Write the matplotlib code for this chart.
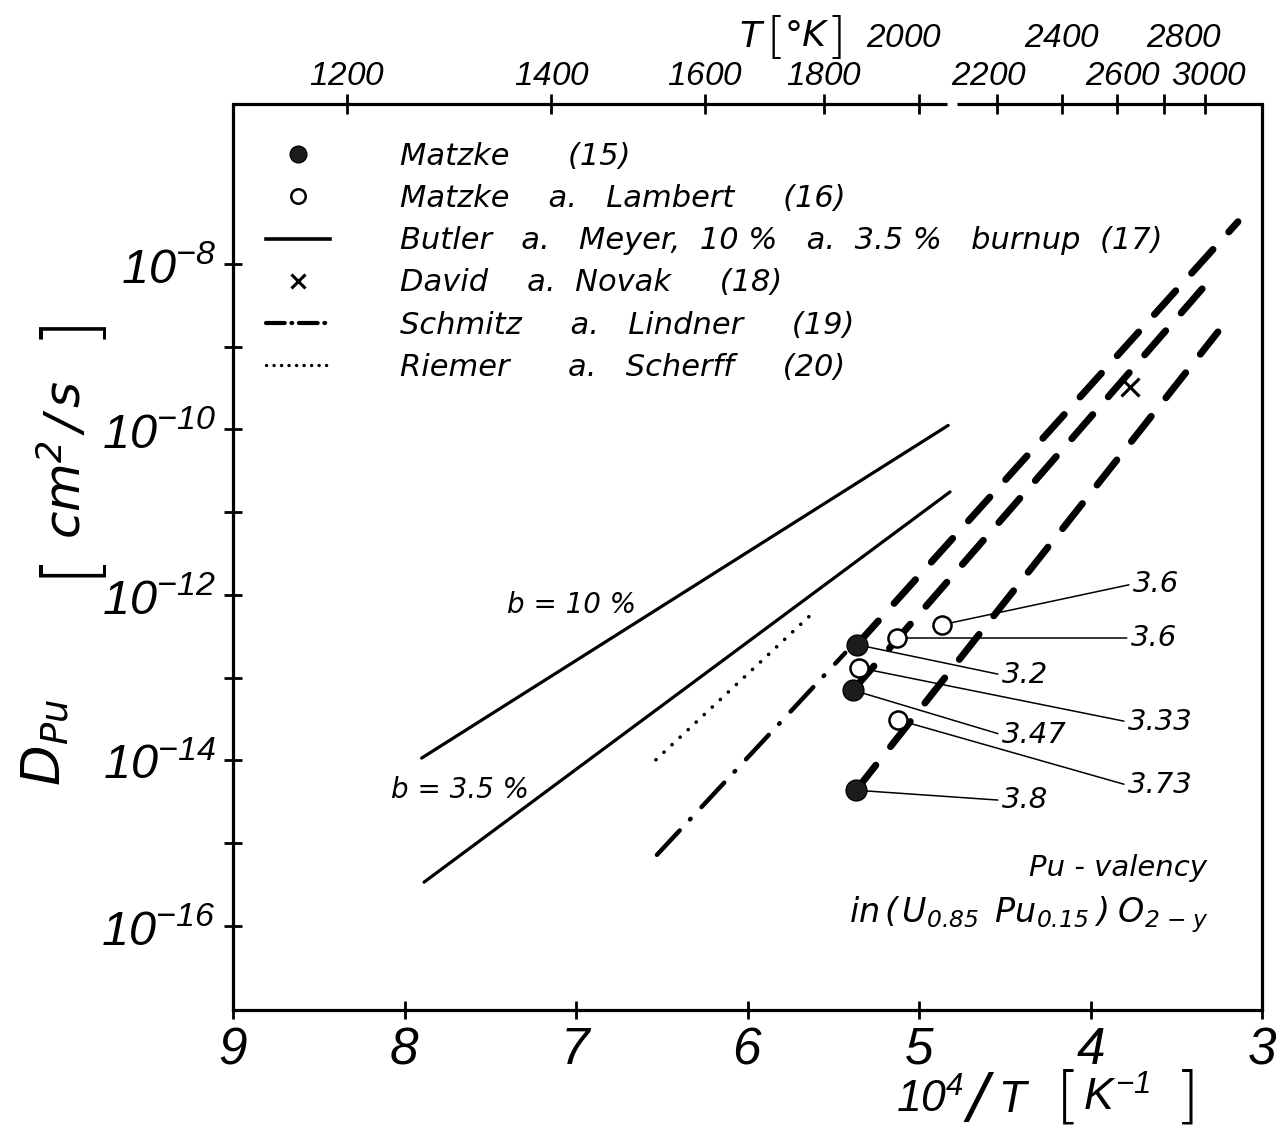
import numpy as np
import matplotlib
matplotlib.use("Agg")
import matplotlib.pyplot as plt
from matplotlib.lines import Line2D
from matplotlib.ticker import NullFormatter, NullLocator
from matplotlib.transforms import blended_transform_factory, ScaledTranslation

# --- data (x = 10^4/T in 1/K, y = D_Pu in cm^2/s) ---
# Matzke (15), filled circles, and their Pu valency
matzke_x = [5.362, 5.385, 5.367]
matzke_d = [2.51e-13, 7.08e-14, 4.37e-15]
matzke_val = ["3.2", "3.47", "3.8"]

# Matzke a. Lambert (16), open circles
lambert_x = [4.866, 5.128, 5.350, 5.122]
lambert_d = [4.37e-13, 3.02e-13, 1.32e-13, 3.09e-14]
lambert_val = ["3.6", "3.6", "3.33", "3.73"]

# Butler a. Meyer (17), 10 % and 3.5 % burnup
butler10_x = [7.90, 4.83]
butler10_d = [1.07e-14, 1.12e-10]
butler35_x = [7.886, 4.819]
butler35_d = [3.39e-16, 1.76e-11]

# David a. Novak (18)
novak_x = [3.770]
novak_d = [3.24e-10]

# Schmitz a. Lindner (19): dash-dot part, then the three heavy dashed lines
schmitz_x = [6.528, 5.43]
schmitz_d = [7.24e-16, 2.0e-13]
heavy1_x = [5.362, 3.140]
heavy1_d = [2.51e-13, 3.24e-8]
heavy2_x = [5.385, 3.315]
heavy2_d = [7.08e-14, 6.03e-9]
heavy3_x = [5.367, 3.257]
heavy3_d = [4.37e-15, 1.51e-9]

# Riemer a. Scherff (20)
riemer_x = [6.534, 5.636]
riemer_d = [1.02e-14, 5.62e-13]

# top axis temperatures
T_ticks = [1200, 1400, 1600, 1800, 2000, 2200, 2400, 2600, 2800, 3000]
T_upper = [2000, 2400, 2800]

# where the valency labels sit (x, D)
matzke_lab_x = [4.516, 4.516, 4.516]
matzke_lab_d = [1.08e-13, 2.04e-14, 3.3e-15]
lambert_lab_x = [3.752, 3.764, 3.781, 3.781]
lambert_lab_d = [1.36e-12, 3.02e-13, 2.92e-14, 5.0e-15]

# --- fonts ---
num_font = "Liberation Sans"
plt.rcParams["font.family"] = ["DejaVu Sans"]
plt.rcParams["mathtext.fontset"] = "custom"
plt.rcParams["mathtext.rm"] = num_font + ":italic"
plt.rcParams["mathtext.it"] = num_font + ":italic"
plt.rcParams["mathtext.sf"] = "DejaVu Sans:italic"

W, H = 1276, 1129
fig = plt.figure(figsize=(W / 100, H / 100), dpi=100)
ax = fig.add_axes([233 / W, 1 - 1010 / H, 1029 / W, 906 / H])
ax.set_yscale("log")
ax.set_xlim(9, 3)
ax.set_ylim(10 ** -17.015, 10 ** -6.067)


def ftext(px, py, s, size, rot=0, **kw):
    # text placed in picture pixels (from top-left)
    kw.setdefault("style", "italic")
    return fig.text(px / W, 1 - py / H, s, fontsize=size, rotation=rot,
                    ha="center", va="center", **kw)


def bracket(px, py, s, size, rot=0):
    # thin, tall square bracket
    return ftext(px, py, s, size, rot=rot, style="normal", fontweight=200)


# lines
ax.plot(butler10_x, butler10_d, color="k", lw=2.3, solid_capstyle="round", zorder=2)
ax.plot(butler35_x, butler35_d, color="k", lw=2.3, solid_capstyle="round", zorder=2)
ax.plot(riemer_x, riemer_d, color="k", lw=2.6, dashes=(0.05, 3.0), dash_capstyle="round", zorder=2)
ax.plot(schmitz_x, schmitz_d, color="k", lw=3.2, dashes=(7.5, 3.4, 0.2, 3.6),
        dash_capstyle="round", zorder=2)
for hx, hd in [(heavy1_x, heavy1_d), (heavy2_x, heavy2_d), (heavy3_x, heavy3_d)]:
    ax.plot(hx, hd, color="k", lw=5.0, dashes=(4.6, 3.4), dash_capstyle="round", zorder=2)

# valency leader lines + labels
for px, pd_, lx, ld, v in zip(matzke_x + lambert_x, matzke_d + lambert_d,
                              matzke_lab_x + lambert_lab_x, matzke_lab_d + lambert_lab_d,
                              matzke_val + lambert_val):
    ax.annotate(v, xy=(px, pd_), xytext=(lx, ld), textcoords="data",
                ha="left", va="center", fontsize=21, style="italic",
                arrowprops=dict(arrowstyle="-", lw=1.1, color="k",
                                shrinkA=1, shrinkB=0, relpos=(0, 0.5)), zorder=3)

# points
p_matzke, = ax.plot(matzke_x, matzke_d, "o", ms=15, mfc="#1c1c1c", mec="k", mew=1.0, zorder=5)
p_lambert, = ax.plot(lambert_x, lambert_d, "o", ms=13, mfc="white", mec="k", mew=1.8, zorder=5)
p_novak, = ax.plot(novak_x, novak_d, "x", ms=13, mec="k", mew=2.2, zorder=5)

# legend (proxies for the lines)
butler_h = Line2D([], [], color="k", lw=2.6)
schmitz_h = Line2D([], [], color="k", lw=3.0, dashes=(4.5, 1.6, 0.2, 1.6), dash_capstyle="round")
riemer_h = Line2D([], [], color="k", lw=2.4, dashes=(0.05, 2.2), dash_capstyle="round")
handles = [p_matzke, p_lambert, butler_h, p_novak, schmitz_h, riemer_h]
labels = ["Matzke      (15)",
          "Matzke    a.   Lambert     (16)",
          "Butler   a.   Meyer,  10 %   a.  3.5 %   burnup  (17)",
          "David    a.  Novak     (18)",
          "Schmitz     a.   Lindner     (19)",
          "Riemer      a.   Scherff     (20)"]
leg = ax.legend(handles, labels, loc="upper left", bbox_to_anchor=(0.032, 0.958),
                frameon=False, borderpad=0, borderaxespad=0, handlelength=2.1,
                handletextpad=2.3, labelspacing=0.43, numpoints=1, markerscale=0.8,
                prop=dict(family="DejaVu Sans", style="italic", size=22))

# in-plot text
ax.text(7.023, 10 ** -12.12, "b = 10 %", fontsize=20, style="italic", ha="center", va="center")
ax.text(7.676, 10 ** -14.36, "b = 3.5 %", fontsize=20, style="italic", ha="center", va="center")
ax.text(0.947, 0.157, "Pu - valency", transform=ax.transAxes, fontsize=21,
        style="italic", ha="right", va="center")
ax.text(0.948, 0.105, r"$\mathsf{in\,(\,U_{0.85}\;\;Pu_{0.15}\;)\;O_{2\,-\,y}}$",
        transform=ax.transAxes, fontsize=24, ha="right", va="center")

# axes styling
for s in ["left", "right", "bottom"]:
    ax.spines[s].set_linewidth(2.3)
ax.spines["top"].set_visible(False)
trans = blended_transform_factory(ax.transData, ax.transAxes)
ax.plot([9, 4.835], [1, 1], transform=trans, color="k", lw=2.3, clip_on=False, solid_capstyle="butt")
ax.plot([4.78, 3], [1, 1], transform=trans, color="k", lw=2.3, clip_on=False, solid_capstyle="butt")

ax.set_xticks([9, 8, 7, 6, 5, 4, 3])
ax.set_xticklabels(["$%d$" % v for v in [9, 8, 7, 6, 5, 4, 3]])
ax.set_yticks([10.0 ** e for e in range(-16, -7, 2)])
ax.set_yticklabels([r"$10^{-%d}$" % -e for e in range(-16, -7, 2)])
ax.set_yticks([10.0 ** e for e in range(-15, -8, 2)], minor=True)
ax.yaxis.set_minor_formatter(NullFormatter())
ax.xaxis.set_minor_locator(NullLocator())
ax.tick_params(axis="both", which="both", direction="inout", length=13, width=2,
               top=False, right=False)
ax.tick_params(axis="x", labelsize=37, pad=4)
ax.tick_params(axis="y", labelsize=35, pad=6)


def inv(v):
    v = np.asarray(v, dtype=float)
    with np.errstate(divide="ignore"):
        return 1e4 / v


sec = ax.secondary_xaxis("top", functions=(inv, inv))
sec.set_xticks(T_ticks)
sec.set_xticklabels([""] * len(T_ticks))
sec.tick_params(direction="inout", length=14, width=2)
sec.spines["top"].set_visible(False)

top_dx = {2000: -15, 2800: 20, 2200: -8, 2600: 6, 3000: 4}
for T in T_ticks:
    yy = 1.073 if T in T_upper else 1.032
    off = ScaledTranslation(top_dx.get(T, 0) / 100, 0, fig.dpi_scale_trans)
    ax.text(1e4 / T, yy, "$%d$" % T, transform=trans + off, fontsize=24,
            ha="center", va="center")

# axis titles, built from pieces so the brackets can be tall
ftext(751, 37, "T", 26)
bracket(776, 39, "[", 35)
ftext(806, 36, "°K", 26)
bracket(836, 39, "]", 35)

ftext(46, 742, r"$\mathsf{D_{Pu}}$", 38, rot=90)
bracket(68, 562, "[", 54, rot=90)
ftext(64, 460, r"$\mathsf{cm^{2}\,/\,s}$", 36, rot=90)
bracket(68, 324, "]", 54, rot=90)

ftext(930, 1100, r"$10^{4}$", 32)
ftext(978, 1099, "/", 44, fontweight=200)
ftext(1013, 1100, "T", 30)
bracket(1068, 1099, "[", 45)
ftext(1117, 1098, r"$K^{-1}$", 32)
bracket(1187, 1099, "]", 45)

fig.savefig("out.png", dpi=100, facecolor="white")
